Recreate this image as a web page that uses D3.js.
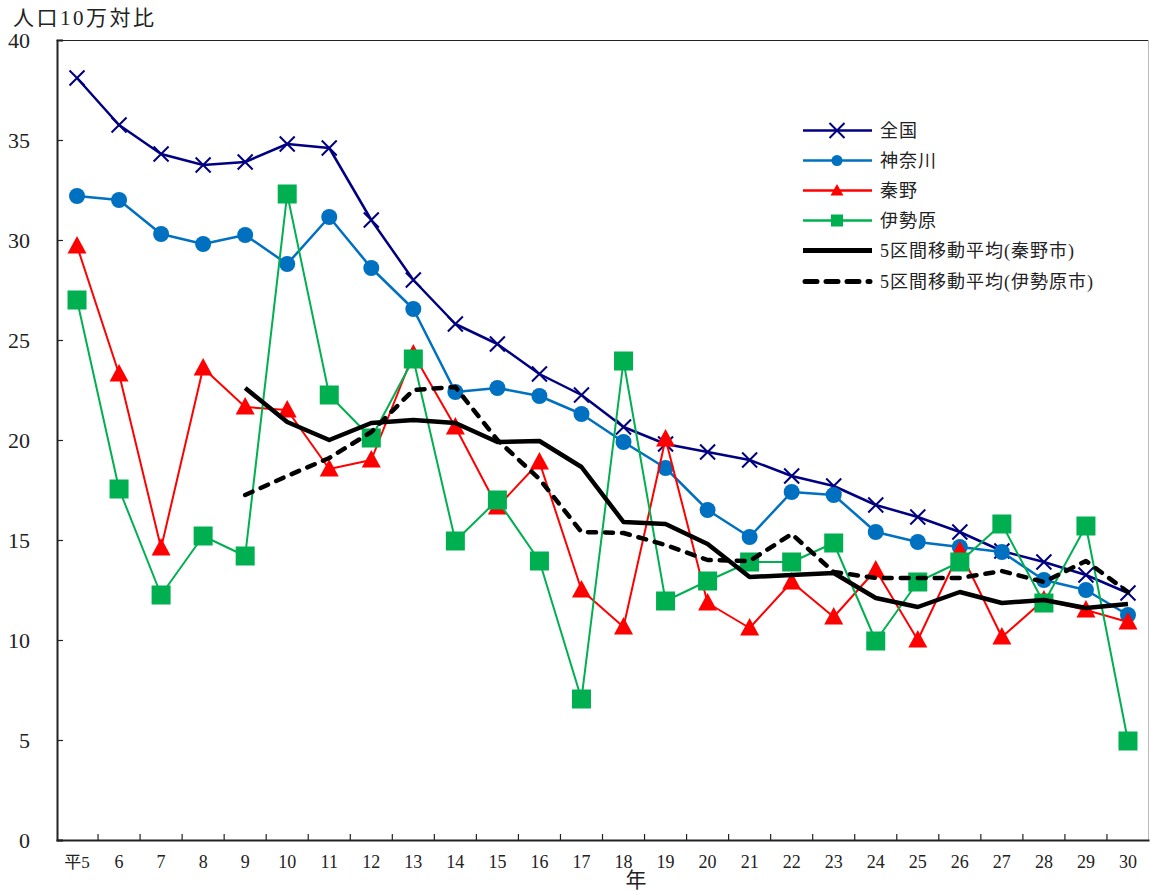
<!DOCTYPE html>
<html><head><meta charset="utf-8">
<script src="https://cdn.jsdelivr.net/npm/d3@7"></script>
<style>
body{margin:0;background:#fff;}
text{font-family:"Liberation Serif","Noto Sans CJK JP",serif;fill:#222;}
</style></head>
<body><svg id="c" width="1150" height="891"></svg>
<script>
const categories = ["平5","6","7","8","9","10","11","12","13","14","15","16","17","18","19","20","21","22","23","24","25","26","27","28","29","30"];
const yTicks = [0,5,10,15,20,25,30,35,40];
const zenkoku   = [38.1,35.75,34.3,33.75,33.9,34.8,34.6,31.0,28.0,25.8,24.8,23.3,22.25,20.65,19.8,19.4,19.0,18.2,17.7,16.75,16.15,15.4,14.45,13.9,13.25,12.35];
const kanagawa  = [32.2,32.0,30.3,29.8,30.25,28.8,31.15,28.6,26.55,22.4,22.6,22.2,21.3,19.9,18.6,16.5,15.15,17.4,17.25,15.4,14.9,14.65,14.4,13.0,12.5,11.25];
const hadano    = [29.7,23.3,14.6,23.6,21.65,21.5,18.55,19.0,24.3,20.65,16.65,18.9,12.5,10.65,20.05,11.85,10.6,12.9,11.15,13.5,10.0,14.45,10.15,12.0,11.5,10.9];
const isehara   = [27.0,17.55,12.25,15.2,14.2,32.3,22.25,20.1,24.05,14.95,17.0,13.95,7.05,23.95,11.95,12.95,13.9,13.9,14.85,9.95,12.9,13.9,15.8,11.85,15.7,4.95];
const maHadano  = [null,null,null,null,22.6,20.9,20.0,20.85,21.0,20.85,19.9,19.95,18.65,15.9,15.8,14.8,13.15,13.25,13.35,12.1,11.65,12.4,11.85,12.0,11.6,11.8];
const maIsehara = [null,null,null,null,17.25,18.2,19.1,20.4,22.5,22.65,20.0,18.05,15.4,15.35,14.75,14.0,13.95,15.3,13.4,13.1,13.1,13.1,13.45,12.9,13.95,12.4];
const seriesNames = ["全国","神奈川","秦野","伊勢原","5区間移動平均(秦野市)","5区間移動平均(伊勢原市)"];

const svg = d3.select("#c");
const x = d3.scaleBand().domain(categories).range([56,1149]);
const y = d3.scaleLinear().domain([0,40]).range([840,40]);
const cx = c => x(c) + x.bandwidth()/2;

// frame
svg.append("line").attr("x1",56.5).attr("x2",1149).attr("y1",40.5).attr("y2",40.5).attr("stroke","#222").attr("stroke-width",1.2);
svg.append("line").attr("x1",1148.5).attr("x2",1148.5).attr("y1",40).attr("y2",840).attr("stroke","#bbb").attr("stroke-width",1);

// y axis
const ya = svg.append("g").attr("transform","translate(57,0)")
  .call(d3.axisRight(y).tickValues(yTicks).tickSize(6).tickFormat(""));
ya.select(".domain").attr("stroke","#222").attr("stroke-width",2);
ya.selectAll(".tick line").attr("stroke","#222").attr("stroke-width",1.2);
svg.selectAll(".ylab").data(yTicks).enter().append("text")
  .attr("x",30).attr("y",d=>y(d)).attr("dy","0.35em").attr("text-anchor","end")
  .style("font-size","22px").text(d=>d);

// x axis
const xa = svg.append("g").attr("transform","translate(0,840)")
  .call(d3.axisTop(x).tickSize(0).tickFormat(""));
xa.select(".domain").attr("stroke","#222").attr("stroke-width",2);
xa.selectAll(".tick line").remove();
svg.selectAll(".xt").data(categories.slice(1)).enter().append("line")
  .attr("x1",d=>x(d)).attr("x2",d=>x(d)).attr("y1",840).attr("y2",834)
  .attr("stroke","#222").attr("stroke-width",1.2);
svg.selectAll(".xlab").data(categories).enter().append("text")
  .attr("x",d=>cx(d)).attr("y",862).attr("dy","0.35em").attr("text-anchor","middle")
  .style("font-size",d=>d==="平5"?"17px":"18px").text(d=>d);

svg.append("text").attr("x",13).attr("y",18).attr("dy","0.35em").style("font-size","21px")
  .style("letter-spacing","2.5px").text("人口10万対比");
svg.append("text").attr("x",636).attr("y",880).attr("dy","0.35em").attr("text-anchor","middle").style("font-size","21px").text("年");

// markers
function marker(g, type, color, px, py){
  if(type==="x"){
    const s=7.5;
    g.append("path").attr("d",`M${px-s},${py-s}L${px+s},${py+s}M${px-s},${py+s}L${px+s},${py-s}`)
      .attr("stroke",color).attr("stroke-width",2).attr("fill","none");
  } else if(type==="circle"){
    g.append("circle").attr("cx",px).attr("cy",py).attr("r",8).attr("fill",color);
  } else if(type==="tri"){
    g.append("path").attr("d",`M${px},${py-10}L${px+9.5},${py+7.5}L${px-9.5},${py+7.5}Z`).attr("fill",color);
  } else if(type==="sq"){
    g.append("rect").attr("x",px-9.5).attr("y",py-9.5).attr("width",19).attr("height",19).attr("fill",color);
  }
}

const series = [
  {name:seriesNames[0], data:zenkoku,   color:"#000080", w:2.5, m:"x"},
  {name:seriesNames[1], data:kanagawa,  color:"#0070C0", w:2.5, m:"circle"},
  {name:seriesNames[2], data:hadano,    color:"#FF0000", w:2,   m:"tri"},
  {name:seriesNames[3], data:isehara,   color:"#00B050", w:2,   m:"sq"},
  {name:seriesNames[4], data:maHadano,  color:"#000000", w:4.5, m:null},
  {name:seriesNames[5], data:maIsehara, color:"#000000", w:4.5, m:null, dash:"8,9"}
];

const line = d3.line().defined(d=>d.v!=null).x(d=>cx(d.c)).y(d=>y(d.v));
series.forEach(s=>{
  const g = svg.append("g");
  const pts = s.data.map((v,i)=>({c:categories[i],v}));
  const p = g.append("path").datum(pts).attr("d",line).attr("fill","none")
    .attr("stroke",s.color).attr("stroke-width",s.w).attr("stroke-linejoin","round");
  if(s.dash){p.attr("stroke-dasharray",s.dash).attr("stroke-linecap","round");}
  if(s.m){pts.forEach(d=>{ if(d.v!=null) marker(g,s.m,s.color,cx(d.c),y(d.v)); });}
});

// legend
const lg = svg.append("g");
const rows = [130.5,160.5,190.5,220.5,250.5,281.5];
series.forEach((s,i)=>{
  const ry = rows[i];
  const l = lg.append("line").attr("x1",803).attr("x2",872).attr("y1",ry).attr("y2",ry)
    .attr("stroke",s.color).attr("stroke-width",s.m?2.5:5);
  if(s.dash){l.attr("stroke-dasharray","12,9").attr("stroke-linecap","round").attr("x1",805).attr("x2",870);}
  if(s.m){
    if(s.m==="x") marker(lg,"x",s.color,837,ry);
    else if(s.m==="circle") lg.append("circle").attr("cx",837).attr("cy",ry).attr("r",5.5).attr("fill",s.color);
    else if(s.m==="tri") lg.append("path").attr("d",`M837,${ry-6.5}L843.5,${ry+5}L830.5,${ry+5}Z`).attr("fill",s.color);
    else lg.append("rect").attr("x",831).attr("y",ry-6).attr("width",12).attr("height",12).attr("fill",s.color);
  }
  lg.append("text").attr("x",880).attr("y",ry).attr("dy","0.35em").style("font-size","18px")
    .style("letter-spacing","1px").text(s.name);
});
</script></body></html>
